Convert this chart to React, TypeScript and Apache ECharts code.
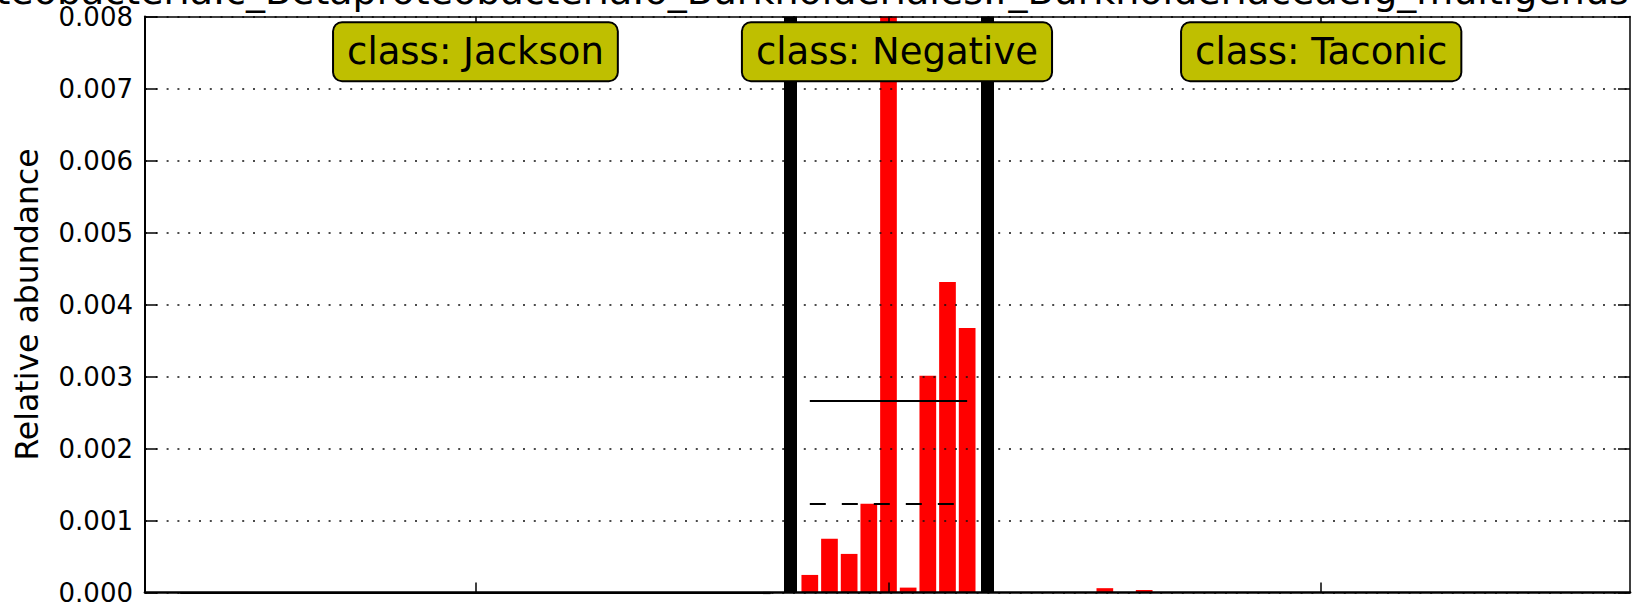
import React, { useEffect, useRef } from "react";
import * as echarts from "echarts";

const FONT = "DejaVu Sans";

const titleText =
  "p_Proteobacteria.c_Betaproteobacteria.o_Burkholderiales.f_Burkholderiaceae.g_multigenus";
const yAxisName = "Relative abundance";
const classNames = ["Jackson", "Negative", "Taconic"];

// relative abundance per sample, grouped by class
const jacksonValues = [
  0, 0, 0, 0.000008, 0, 0, 0, 0, 0, 0,
  0, 0, 0, 0, 0, 0, 0, 0, 0, 0,
  0, 0, 0, 0, 0, 0, 0, 0, 0, 0,
  0,
];
const negativeValues = [
  0.000244, 0.000748, 0.000536, 0.001234, 0.01016, 0.000068, 0.003012, 0.004312, 0.003674,
];
const taconicValues = [
  0, 0, 0, 0, 0, 0.00006, 0, 0.000035, 0, 0,
  0, 0, 0, 0, 0, 0, 0, 0, 0, 0,
  0, 0, 0, 0, 0, 0, 0, 0, 0, 0,
  0, 0, 0,
];
const yTickValues = [0, 0.001, 0.002, 0.003, 0.004, 0.005, 0.006, 0.007, 0.008];

const groups = [jacksonValues, negativeValues, taconicValues];

function mean(a: number[]) {
  return a.reduce((s, v) => s + v, 0) / a.length;
}
function median(a: number[]) {
  const s = [...a].sort((x, y) => x - y);
  const m = Math.floor(s.length / 2);
  return s.length % 2 ? s[m] : (s[m - 1] + s[m]) / 2;
}

export default function App() {
  const ref = useRef<HTMLDivElement>(null);

  useEffect(() => {
    if (!ref.current) return;
    const chart = echarts.init(ref.current, null, { renderer: "svg", width: 1633, height: 608 });

    let pos = 0;
    const barData: number[][] = [];
    const centers: number[] = [];
    const separators: number[] = [];
    const ranges: number[][] = [];
    groups.forEach((vals, gi) => {
      const start = pos;
      vals.forEach((v) => {
        barData.push([pos, v]);
        pos++;
      });
      const end = pos - 1;
      ranges.push([start, end]);
      centers.push((start + end) / 2);
      if (gi < groups.length - 1) {
        separators.push(pos);
        pos++;
      }
    });

    const xMin = -1.8;
    const xMax = 73.7;
    const yMin = yTickValues[0];
    const yMax = yTickValues[yTickValues.length - 1];
    const yInterval = yTickValues[1] - yTickValues[0];
    const labelY = 0.00751;

    const meanLines: any[] = [];
    const medianLines: any[] = [];
    groups.forEach((vals, gi) => {
      const [s, e] = ranges[gi];
      const mu = mean(vals);
      const md = median(vals);
      meanLines.push([{ coord: [s, mu] }, { coord: [e, mu] }]);
      medianLines.push([{ coord: [s, md] }, { coord: [e, md] }]);
    });

    const labelOffsets = [[0, 0], [8.5, 0], [0, 0]];

    const option: any = {
      animation: false,
      textStyle: { fontFamily: FONT },
      grid: { left: 145, top: 16.5, width: 1485, height: 576, show: false },
      xAxis: [
        {
          type: "value",
          min: xMin,
          max: xMax,
          position: "bottom",
          z: 8,
          axisLine: { show: true, onZero: false, lineStyle: { color: "#000", width: 2.7 } },
          axisTick: {
            show: true,
            inside: true,
            length: 10,
            customValues: centers,
            lineStyle: { color: "#000", width: 1.5 },
          },
          axisLabel: { show: false },
          splitLine: { show: false },
        },
        {
          type: "value",
          min: xMin,
          max: xMax,
          position: "top",
          z: 8,
          axisLine: { show: true, onZero: false, lineStyle: { color: "#000", width: 1.5 } },
          axisTick: {
            show: true,
            inside: true,
            length: 10,
            customValues: centers,
            lineStyle: { color: "#000", width: 1.5 },
          },
          axisLabel: { show: false },
          splitLine: { show: false },
        },
      ],
      yAxis: [
        {
          type: "value",
          min: yMin,
          max: yMax,
          interval: yInterval,
          position: "left",
          z: 5,
          name: yAxisName,
          nameLocation: "middle",
          nameGap: 102,
          nameTextStyle: { fontSize: 31.5, color: "#000", fontFamily: FONT },
          axisLine: { show: true, onZero: false, lineStyle: { color: "#000", width: 2 } },
          axisTick: { show: true, inside: true, length: 12, lineStyle: { color: "#000", width: 1.5 } },
          axisLabel: {
            fontSize: 26,
            color: "#000",
            margin: 12,
            fontFamily: FONT,
            formatter: (v: number) => v.toFixed(3),
          },
          splitLine: { show: true, lineStyle: { color: "#111", width: 1.6, type: [2, 8.8] } },
        },
        {
          type: "value",
          min: yMin,
          max: yMax,
          interval: yInterval,
          position: "right",
          z: 5,
          axisLine: { show: true, onZero: false, lineStyle: { color: "#000", width: 1.5 } },
          axisTick: { show: true, inside: true, length: 12, lineStyle: { color: "#000", width: 1.5 } },
          axisLabel: { show: false },
          splitLine: { show: false },
        },
      ],
      series: [
        {
          type: "bar",
          name: "abundance",
          data: barData,
          barWidth: 16.7,
          clip: true,
          silent: true,
          z: 2,
          itemStyle: { color: "#ff0000" },
        },
        {
          type: "line",
          name: "separators",
          data: [],
          z: 6,
          silent: true,
          markLine: {
            silent: true,
            symbol: "none",
            label: { show: false },
            lineStyle: { color: "#000", width: 13, type: "solid" },
            data: separators.map((x) => ({ xAxis: x })),
          },
        },
        {
          type: "line",
          name: "mean",
          data: [],
          z: 7,
          silent: true,
          markLine: {
            silent: true,
            symbol: "none",
            label: { show: false },
            lineStyle: { color: "#000", width: 2.2, type: "solid" },
            data: meanLines,
          },
        },
        {
          type: "line",
          name: "median",
          data: [],
          z: 7,
          silent: true,
          markLine: {
            silent: true,
            symbol: "none",
            label: { show: false },
            lineStyle: { color: "#000", width: 2.2, type: [16, 16] },
            data: medianLines,
          },
        },
        {
          type: "scatter",
          name: "classes",
          z: 10,
          silent: true,
          symbol: "rect",
          symbolSize: 1,
          itemStyle: { color: "rgba(0,0,0,0)", opacity: 1 },
          emphasis: { disabled: true },
          data: classNames.map((c, i) => ({
            name: c,
            value: [centers[i], labelY],
            label: { offset: labelOffsets[i] },
          })),
          label: {
            show: true,
            position: "inside",
            formatter: (p: any) => "class: " + p.name,
            fontSize: 37,
            fontFamily: FONT,
            color: "#000",
            opacity: 1,
            backgroundColor: "#bfbf00",
            borderColor: "#000",
            borderWidth: 2,
            borderRadius: 8,
            padding: [7, 13],
            lineHeight: 43,
          },
        },
      ],
      graphic: [
        {
          type: "text",
          x: -108,
          y: -8.8,
          z: 20,
          style: {
            text: titleText,
            fontSize: 38,
            fontFamily: FONT,
            fill: "#000",
            textAlign: "left",
            textVerticalAlign: "middle",
            verticalAlign: "middle",
          },
        },
      ],
    };

    chart.setOption(option);
    return () => chart.dispose();
  }, []);

  return (
    <div
      ref={ref}
      style={{ position: "absolute", left: 0, top: 0, width: 1633, height: 608, background: "#fff" }}
    />
  );
}
